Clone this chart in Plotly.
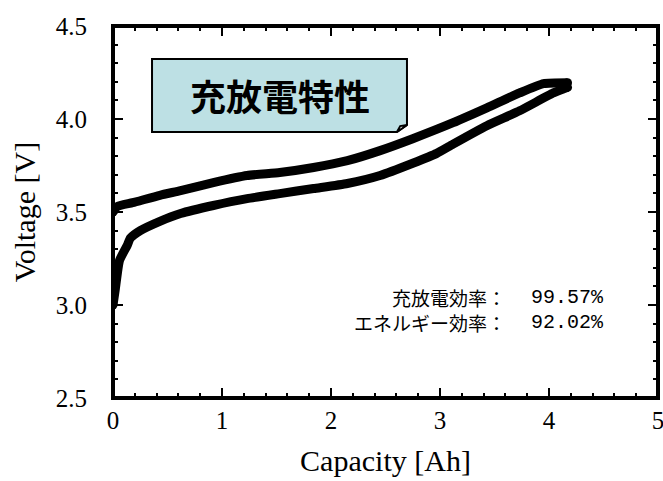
import plotly.graph_objects as go

# Charge curve (upper)
charge_cap = [0.0, 0.04, 0.18, 0.43, 0.62, 0.92, 1.23, 1.53, 1.84, 2.15, 2.45, 2.75, 3.12, 3.43, 3.73, 3.95, 4.17]
charge_v = [3.50, 3.53, 3.55, 3.59, 3.615, 3.658, 3.696, 3.712, 3.739, 3.776, 3.830, 3.894, 3.98, 4.06, 4.14, 4.19, 4.195]

# Discharge curve (lower)
dis_cap = [4.17, 4.04, 3.73, 3.43, 3.12, 2.97, 2.75, 2.45, 2.15, 1.84, 1.53, 1.23, 0.92, 0.62, 0.43, 0.25, 0.16, 0.13, 0.06, 0.02, 0.0]
dis_v = [4.17, 4.14, 4.044, 3.964, 3.865, 3.815, 3.762, 3.696, 3.653, 3.626, 3.599, 3.572, 3.535, 3.492, 3.45, 3.40, 3.36, 3.32, 3.24, 3.08, 3.00]

title_text = "充放電特性"
label_lines = ["充放電効率：", "エネルギー効率："]
value_lines = ["99.57%", "92.02%"]

x_ticks = [0, 1, 2, 3, 4, 5]
y_ticks = [2.5, 3.0, 3.5, 4.0, 4.5]

LW = 9
fig = go.Figure()
fig.add_trace(go.Scatter(x=charge_cap, y=charge_v, mode="lines",
                         line=dict(color="black", width=LW, shape="spline", smoothing=0.5),
                         showlegend=False))
fig.add_trace(go.Scatter(x=dis_cap, y=dis_v, mode="lines",
                         line=dict(color="black", width=LW, shape="spline", smoothing=0.5),
                         showlegend=False))
fig.add_trace(go.Scatter(x=[charge_cap[0], dis_cap[-1], charge_cap[-1], dis_cap[0]],
                         y=[charge_v[0], dis_v[-1], charge_v[-1], dis_v[0]], mode="markers",
                         marker=dict(color="black", size=LW), showlegend=False))

axis_common = dict(
    showgrid=False, zeroline=False, showline=False,
    mirror="allticks", ticks="inside", ticklen=10, tickwidth=2, tickcolor="black",
    tickfont=dict(family="Liberation Serif", size=25, color="black"),
    automargin=False, ticklabeloverflow="allow",
)
fig.update_xaxes(range=[0, 5], tickvals=x_ticks, ticktext=[str(t) for t in x_ticks],
                 minor=dict(dtick=0.2, ticks="inside", ticklen=5, tickwidth=2, tickcolor="black"),
                 title=dict(text="Capacity [Ah]", font=dict(family="Liberation Serif", size=30, color="black"), standoff=16),
                 ticklabelstandoff=5,
                 **axis_common)
fig.update_yaxes(range=[2.5, 4.5], tickvals=y_ticks, ticktext=[f"{t:.1f}" for t in y_ticks],
                 minor=dict(dtick=0.1, ticks="inside", ticklen=5, tickwidth=2, tickcolor="black"),
                 title=dict(text="Voltage [V]", font=dict(family="Liberation Serif", size=30, color="black"), standoff=11),
                 ticklabelstandoff=25,
                 **axis_common)

# Plot frame
fig.add_shape(type="rect", xref="paper", yref="paper", x0=0, x1=1, y0=0, y1=1,
              line=dict(color="black", width=4), layer="above")

# Title box with folded corner
fig.add_shape(type="path", xref="paper", yref="paper",
              path="M 0.0716 0.911 L 0.5394 0.911 L 0.5394 0.734 L 0.521 0.715 L 0.0716 0.715 Z",
              fillcolor="#bde0e4", line=dict(color="black", width=2), layer="above")
fig.add_shape(type="path", xref="paper", yref="paper",
              path="M 0.521 0.715 L 0.527 0.731 L 0.5394 0.734 Z",
              fillcolor="white", line=dict(color="black", width=2), layer="above")
fig.add_annotation(xref="paper", yref="paper", x=0.3064, y=0.8145, xanchor="center", yanchor="middle",
                   text=title_text, showarrow=False,
                   font=dict(family="Noto Sans CJK JP", size=36, color="black", weight="bold"))

label_y = [0.2715, 0.2018]
for i in range(2):
    fig.add_annotation(xref="paper", yref="paper", x=0.723, y=label_y[i], xanchor="right", yanchor="middle",
                       text=label_lines[i], showarrow=False, borderpad=0,
                       font=dict(family="Noto Sans CJK JP", size=19, color="black"))
    fig.add_annotation(xref="paper", yref="paper", x=0.9028, y=label_y[i], xanchor="right", yanchor="middle",
                       text=value_lines[i], showarrow=False, borderpad=0,
                       font=dict(family="Liberation Mono", size=20, color="black"))

fig.update_layout(width=663, height=481, margin=dict(l=113, r=5, t=26, b=83),
                  plot_bgcolor="white", paper_bgcolor="white")
fig.write_html("out.html", config={"displayModeBar": False},
               post_script="document.body.style.margin='0';document.body.style.padding='0';")
